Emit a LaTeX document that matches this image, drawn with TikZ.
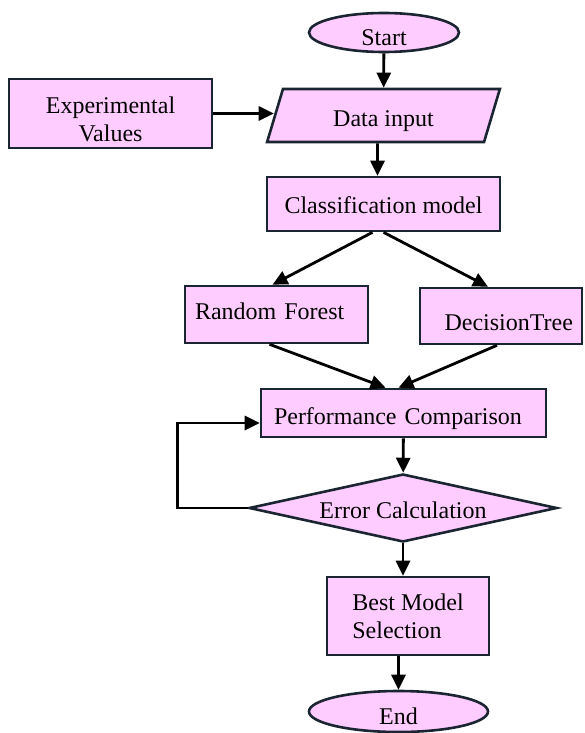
\documentclass[tikz,border=0pt]{standalone}
\usepackage{fontspec}
\setmainfont{Liberation Serif}
\usetikzlibrary{shapes.geometric,arrows.meta}
\definecolor{boxpink}{HTML}{FFCCFF}
\definecolor{boxline}{HTML}{1B2531}
\begin{document}
\begin{tikzpicture}[x=1pt,y=-1pt,
    every node/.style={font=\fontsize{24pt}{28pt}\selectfont},
    flowbox/.style={draw=boxline,fill=boxpink,line width=2.6pt,inner sep=0pt},
    procbox/.style={flowbox,rectangle},
    termbox/.style={flowbox,ellipse},
    iobox/.style={flowbox,trapezium,trapezium left angle=71,trapezium right angle=109,trapezium stretches=true},
    decbox/.style={flowbox,diamond,shape aspect=4.5},
    flowarrow/.style={-{Triangle[length=15pt,width=14pt]},line width=2.8pt,black}]
    \useasboundingbox (0,0) rectangle (584,733);

    \node[termbox,minimum width=150pt,minimum height=39pt,text height=27pt,text depth=0pt] (start) at (384,32.5) {Start};
    \node[procbox,minimum width=203pt,minimum height=69pt,align=center,text height=56pt,text depth=0pt] (exp) at (110.5,113.5) {Experimental\\Values};
    \node[iobox,minimum width=233pt,minimum height=53pt,text height=23pt,text depth=0pt] (data) at (383.5,115.5) {Data input};
    \node[procbox,minimum width=233pt,minimum height=54pt,text height=18pt,text depth=0pt] (class) at (383.5,204) {Classification model};
    \node[procbox,minimum width=183pt,minimum height=57pt,text width=163pt,align=left,text height=10pt,text depth=0pt] (rf) at (276.5,314.5) {Random Forest};
    \node[procbox,minimum width=162pt,minimum height=56pt,text width=144pt,align=right,text height=28pt,text depth=0pt] (dt) at (501,316) {DecisionTree};
    \node[procbox,minimum width=285pt,minimum height=48pt,text width=259pt,align=left,text height=23pt,text depth=0pt] (pc) at (403.5,413) {Performance Comparison};
    \node[decbox,minimum width=308pt,minimum height=68pt,text height=21pt,text depth=0pt] (ec) at (403,508) {Error Calculation};
    \node[procbox,minimum width=162pt,minimum height=78pt,align=left] (bms) at (408,616) {Best Model\\Selection};
    \node[termbox,minimum width=179pt,minimum height=41pt,text height=25pt,text depth=0pt] (end) at (398.5,711.5) {End};

    \draw[flowarrow] (start) -- (data);
    \draw[flowarrow] (exp.east) -- (exp.east -| data.west);
    \draw[flowarrow] ([xshift=-6pt]data.south) -- ([xshift=-6pt]class.north);
    \draw[flowarrow] ([xshift=-11pt]class.south) -- ([xshift=-4pt]rf.north);
    \draw[flowarrow] (class.south) -- ([xshift=-13pt]dt.north);
    \draw[flowarrow] ([xshift=-7pt]rf.south) -- ([xshift=-18pt]pc.north);
    \draw[flowarrow] ([xshift=-4pt]dt.south) -- ([xshift=-5pt]pc.north);
    \draw[flowarrow] (pc) -- (ec);
    \draw[flowarrow] (ec.west) -- ++(-70,0) |- ([yshift=-10pt]pc.west);
    \draw[flowarrow] (ec.south) -- (ec.south |- bms.north);
    \draw[flowarrow] (bms.south -| end.north) -- (end.north);
\end{tikzpicture}
\end{document}
